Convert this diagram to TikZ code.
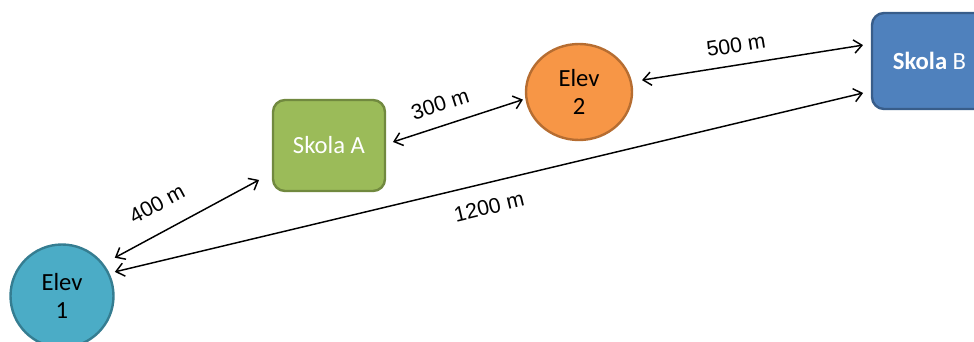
\documentclass[tikz,border=0pt]{standalone}
\usepackage{fontspec}
\setmainfont{Carlito}
\newfontfamily\arialfont{Liberation Sans}
\usetikzlibrary{arrows.meta,shapes.geometric}

\definecolor{elevone}{HTML}{4BACC6}
\definecolor{elevoneline}{HTML}{357D91}
\definecolor{elevtwo}{HTML}{F79646}
\definecolor{elevtwoline}{HTML}{B66D31}
\definecolor{skolaa}{HTML}{9BBB59}
\definecolor{skolaaline}{HTML}{71893F}
\definecolor{skolab}{HTML}{4F81BD}
\definecolor{skolabline}{HTML}{385D8A}

\tikzset{
	elev/.style={line width=1.8pt, inner sep=0pt, outer sep=0pt, align=center,
		font=\fontsize{18.5}{21.5}\selectfont},
	skola/.style={rectangle, rounded corners=9pt, line width=1.8pt, inner sep=0pt,
		outer sep=0pt, text=white, font=\fontsize{18.5}{21.5}\selectfont},
	dist/.style={line width=1.1pt, {Straight Barb[length=6pt,width=10pt]}-{Straight Barb[length=6pt,width=10pt]}},
	lbl/.style={inner sep=0pt, font=\arialfont\fontsize{16}{18}\selectfont}
}

\begin{document}
\begin{tikzpicture}[x=0.75pt, y=-0.75pt]
	\clip (0,0) rectangle (974,342);
	
	\node (e1) at (62,296) [elev, circle, minimum size=77.25pt, fill=elevone, draw=elevoneline] {Elev\\1};
	\node (e2) at (579,92) [elev, ellipse, minimum width=79.5pt, minimum height=72pt, fill=elevtwo, draw=elevtwoline] {Elev\\2};
	\node (sa) at (329,145.5) [skola, minimum width=84pt, minimum height=68.25pt, fill=skolaa, draw=skolaaline] {Skola A};
	\node (sb) at (929.5,61) [skola, minimum width=86.25pt, minimum height=72pt, fill=skolab, draw=skolabline] {\textbf{Skola} B};
	
	\draw[dist, shorten <=10.4pt, shorten >=11.9pt] (e1.38) -- ([yshift=-20.2pt]sa.west);
	\draw[dist, shorten <=5.1pt, shorten >=6.9pt] (e1.26) -- ([yshift=-22.4pt]sb.west);
	\draw[dist, shorten <=6.3pt, shorten >=2.8pt] ([yshift=0.7pt]sa.east) -- (e2.187);
	\draw[dist, shorten <=8.5pt, shorten >=6.8pt] (e2.11) -- ([yshift=13pt]sb.west);
	
	\node (d1) at (157,204) [lbl, rotate=28.4] {400 m};
	\node (d2) at (440,104) [lbl, rotate=17.9] {300 m};
	\node (d3) at (736,45) [lbl, rotate=9] {500 m};
	\node (d4) at (489,207) [lbl, rotate=13.5] {1200 m};
	
\end{tikzpicture}
\end{document}
